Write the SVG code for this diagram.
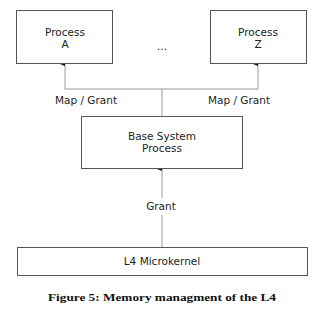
<svg xmlns="http://www.w3.org/2000/svg" width="320" height="312" viewBox="0 0 320 312">
<style>
.box{fill:#fff;stroke:#555;stroke-width:1}
.t{font-family:"DejaVu Sans",sans-serif;font-size:10.5px;fill:#222;text-anchor:middle}
.c{fill:none;stroke:#999;stroke-width:1}
.cap{font-family:"Liberation Serif",serif;font-weight:bold;font-size:11px;fill:#111}
</style>
<defs>
<marker id="ah" markerWidth="4" markerHeight="5" refX="2" refY="5" orient="auto" markerUnits="userSpaceOnUse" viewBox="0 0 4 5">
<path d="M0,5 L2,0 L4,5 Z" fill="#111"/>
</marker>
</defs>
<g id="connectors">
<path class="c" d="M65,89 L65,64" marker-end="url(#ah)"/>
<path class="c" d="M258,89 L258,64" marker-end="url(#ah)"/>
<path class="c" d="M65,89 L258,89"/>
<path class="c" d="M162,89 L162,116"/>
<path class="c" d="M162,247 L162,169" marker-end="url(#ah)"/>
<rect x="140" y="198" width="44" height="17" fill="#fff"/>
<text class="t" x="86" y="104">Map / Grant</text>
<text class="t" x="239" y="104">Map / Grant</text>
<text class="t" x="161" y="210">Grant</text>
</g>
<g id="processA">
<rect class="box" x="16.5" y="10.5" width="96" height="53"/>
<text class="t" x="65" y="36">Process</text>
<text class="t" x="65" y="48">A</text>
</g>
<g id="ellipsis">
<text class="t" x="162" y="50">...</text>
</g>
<g id="processZ">
<rect class="box" x="210.5" y="10.5" width="96" height="53"/>
<text class="t" x="258" y="36">Process</text>
<text class="t" x="258" y="48">Z</text>
</g>
<g id="base">
<rect class="box" x="81.5" y="116.5" width="161" height="52"/>
<text class="t" x="162" y="140">Base System</text>
<text class="t" x="162" y="152">Process</text>
</g>
<g id="kernel">
<rect class="box" x="17.5" y="247.5" width="290" height="28"/>
<text class="t" x="162" y="265">L4 Microkernel</text>
</g>
<text class="cap" x="48" y="301" textLength="228" lengthAdjust="spacingAndGlyphs">Figure 5: Memory managment of the L4</text>
</svg>
